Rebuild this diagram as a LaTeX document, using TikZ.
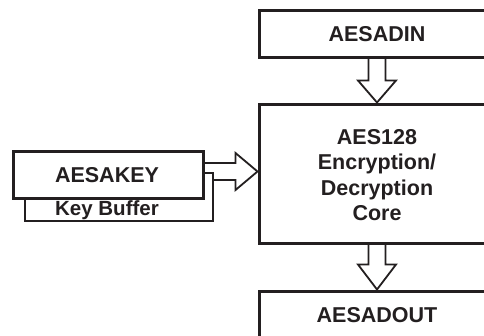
\documentclass[tikz,border=0pt]{standalone}
\usepackage{fontspec}
\setmainfont{Liberation Sans}
\usetikzlibrary{calc}
\definecolor{ink}{HTML}{231F20}
\begin{document}
\begin{tikzpicture}[x=1pt,y=-1pt,
  blk/.style={draw=ink, line width=3pt, fill=white, rectangle, inner sep=0pt},
  bufbox/.style={draw=ink, line width=1.8pt, fill=white, rectangle, inner sep=0pt},
  lbl/.style={font=\fontsize{21.5}{25.5}\selectfont\bfseries, text=ink, align=center, inner sep=0pt},
  barrow/.style={draw=ink, line width=1.8pt, fill=white, line join=miter}]
\useasboundingbox (0,0) rectangle (484,335);
\clip (0,0) rectangle (484,335);
% boxes (positions)
\path
  node[blk, minimum width=236pt, minimum height=47pt] (din) at (377,33.5) {}
  node[blk, minimum width=236pt, minimum height=139pt] (core) at (377,173.5) {}
  node[blk, minimum width=236pt, minimum height=48pt] (dout) at (377,315) {}
  node[bufbox, minimum width=188pt, minimum height=48pt] (buf) at (119,197) {}
  node[blk, minimum width=190pt, minimum height=47pt] (key) at (108,174.5) {};
\coordinate (tipR) at ($(core.west)+(0,-2)$);
% block arrows
\draw[barrow] ($(din.south)+(-8.5,0)$) -- ($(core.north)+(-8.5,-22)$) -- ($(core.north)+(-19,-22)$) -- (core.north) -- ($(core.north)+(19,-22)$) -- ($(core.north)+(8.5,-22)$) -- ($(din.south)+(8.5,0)$);
\draw[barrow] ($(core.south)+(-8.5,0)$) -- ($(dout.north)+(-8.5,-25)$) -- ($(dout.north)+(-19,-25)$) -- (dout.north) -- ($(dout.north)+(19,-25)$) -- ($(dout.north)+(8.5,-25)$) -- ($(core.south)+(8.5,0)$);
\draw[barrow] ($(key.east |- tipR)+(-4,-8.5)$) -- ($(tipR)+(-22,-8.5)$) -- ($(tipR)+(-22,-18.5)$) -- (tipR) -- ($(tipR)+(-22,18.5)$) -- ($(tipR)+(-22,8.5)$) -- ($(key.east |- tipR)+(-4,8.5)$);
% redraw boxes over arrow ends
\path
  node[blk, minimum width=236pt, minimum height=47pt] at (din) {}
  node[blk, minimum width=236pt, minimum height=139pt] at (core) {}
  node[blk, minimum width=236pt, minimum height=48pt] at (dout) {}
  node[bufbox, minimum width=188pt, minimum height=48pt] at (buf) {}
  node[blk, minimum width=190pt, minimum height=47pt] at (key) {};
% labels
\node[lbl] (dinlbl) at ($(din)+(0,1)$) {AESADIN};
\node[lbl] (corelbl) at ($(core)+(0,1.5)$) {AES128\\Encryption/\\Decryption\\Core};
\node[lbl] (doutlbl) at (dout) {AESADOUT};
\node[lbl] (keylbl) at ($(key)+(-1,1)$) {AESAKEY};
\node[lbl, font=\fontsize{20.5}{24}\selectfont\bfseries, anchor=base] (buflbl) at (107,215) {Key Buffer};
\end{tikzpicture}
\end{document}
